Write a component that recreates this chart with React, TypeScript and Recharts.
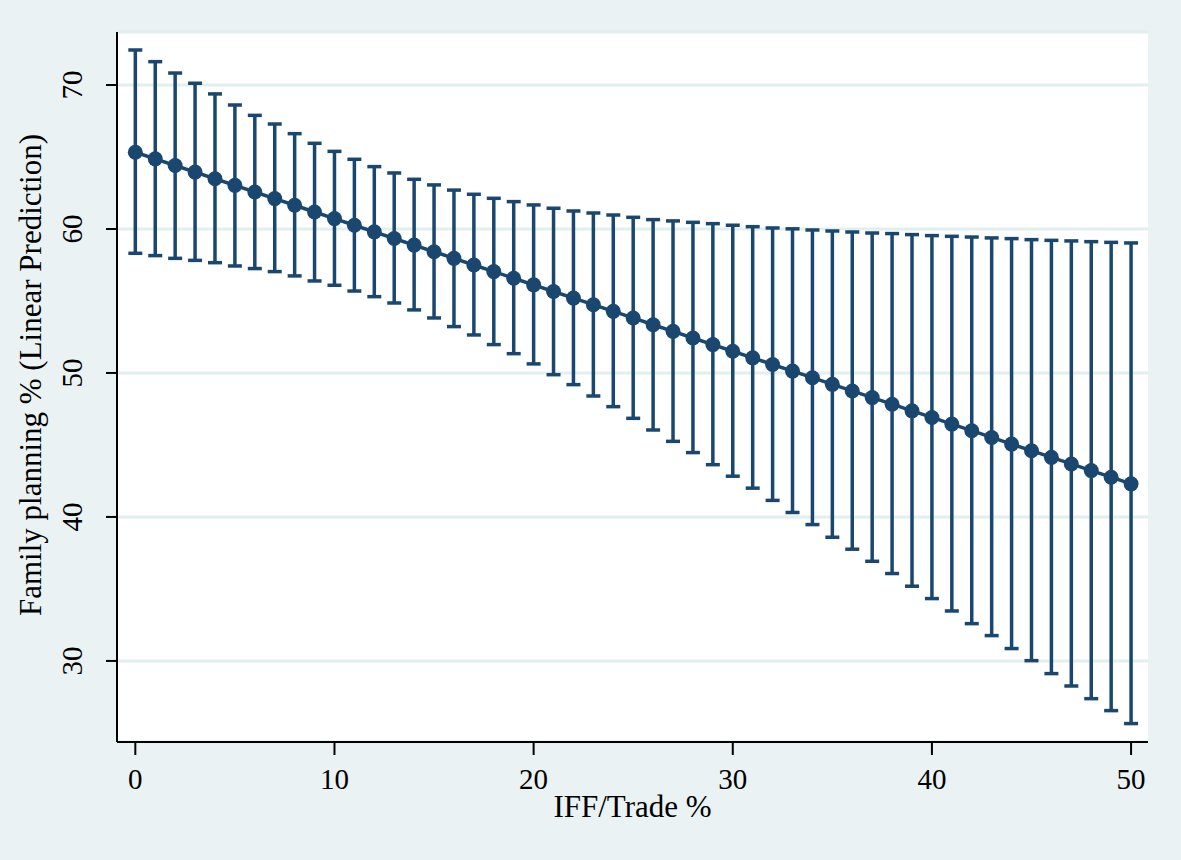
import React from 'react';
import { LineChart, Line, XAxis, YAxis, CartesianGrid, ErrorBar } from 'recharts';

// IFF/Trade % values (x)
const iffTrade = [
  0, 1, 2, 3, 4, 5, 6, 7, 8, 9, 10, 11, 12, 13, 14, 15, 16, 17, 18, 19, 20, 21, 22, 23, 24, 25,
  26, 27, 28, 29, 30, 31, 32, 33, 34, 35, 36, 37, 38, 39, 40, 41, 42, 43, 44, 45, 46, 47, 48, 49, 50,
];

// linear prediction of family planning %
const prediction = [
  65.33, 64.87, 64.41, 63.95, 63.49, 63.03, 62.57, 62.11, 61.65, 61.18, 60.72, 60.26, 59.8, 59.34,
  58.88, 58.42, 57.96, 57.5, 57.04, 56.58, 56.12, 55.66, 55.2, 54.74, 54.28, 53.82, 53.35, 52.89,
  52.43, 51.97, 51.51, 51.05, 50.59, 50.13, 49.67, 49.21, 48.75, 48.29, 47.83, 47.37, 46.91, 46.45,
  45.99, 45.52, 45.06, 44.6, 44.14, 43.68, 43.22, 42.76, 42.3,
];

// upper confidence limit
const upperCI = [
  72.43, 71.62, 70.83, 70.12, 69.38, 68.61, 67.89, 67.29, 66.62, 65.95, 65.39, 64.84, 64.33, 63.89,
  63.45, 63.06, 62.7, 62.41, 62.13, 61.9, 61.67, 61.44, 61.25, 61.11, 60.97, 60.81, 60.65, 60.56,
  60.46, 60.37, 60.26, 60.16, 60.07, 60.01, 59.93, 59.86, 59.79, 59.72, 59.68, 59.61, 59.54, 59.49,
  59.44, 59.38, 59.33, 59.26, 59.21, 59.17, 59.12, 59.07, 59.03,
];

// lower confidence limit
const lowerCI = [
  58.31, 58.15, 57.96, 57.82, 57.66, 57.43, 57.25, 57.04, 56.74, 56.39, 56.09, 55.69, 55.3, 54.86,
  54.38, 53.82, 53.22, 52.64, 51.97, 51.34, 50.63, 49.88, 49.19, 48.4, 47.66, 46.85, 46.04, 45.25,
  44.47, 43.63, 42.83, 42.0, 41.15, 40.31, 39.47, 38.59, 37.76, 36.92, 36.07, 35.19, 34.33, 33.47,
  32.59, 31.76, 30.86, 30.02, 29.12, 28.26, 27.38, 26.55, 25.65,
];

const xTicks = [0, 10, 20, 30, 40, 50];
const yTicks = [30, 40, 50, 60, 70];

const NAVY = '#1a476f';
const FONT = '"Liberation Serif", "Times New Roman", serif';

const data = iffTrade.map((x, i) => ({
  x,
  y: prediction[i],
  err: [prediction[i] - lowerCI[i], upperCI[i] - prediction[i]],
}));

const YTick = ({ x, y, payload }: any) => {
  const bx = x - 24;
  return (
    <text
      x={bx}
      y={y}
      transform={`rotate(-90 ${bx} ${y})`}
      textAnchor="middle"
      fontFamily={FONT}
      fontSize={29}
      fill="#000"
    >
      {payload.value}
    </text>
  );
};

export default function App() {
  return (
    <div
      style={{
        position: 'absolute',
        left: 0,
        top: 0,
        width: 1181,
        height: 860,
        background: '#eaf2f3',
      }}
    >
      <LineChart
        width={1181}
        height={860}
        data={data}
        margin={{ top: 32, right: 33, bottom: 0, left: 0 }}
      >
        <CartesianGrid
          vertical={false}
          fill="#ffffff"
          stroke="#e3eef0"
          strokeWidth={3}
        />
        <XAxis
          dataKey="x"
          type="number"
          domain={[-0.92, 50.85]}
          ticks={xTicks}
          allowDataOverflow
          height={118}
          stroke="#000"
          strokeWidth={2}
          tickSize={13}
          tickMargin={13}
          tick={{ fontSize: 29, fontFamily: FONT, fill: '#000' }}
          label={{
            content: ({ viewBox }: any) => (
              <text
                x={viewBox.x + viewBox.width / 2}
                y={viewBox.y + 75}
                textAnchor="middle"
                fontFamily={FONT}
                fontSize={31}
                fill="#000"
              >
                IFF/Trade %
              </text>
            ),
          }}
        />
        <YAxis
          type="number"
          domain={[24.37, 73.68]}
          ticks={yTicks}
          allowDataOverflow
          width={117}
          stroke="#000"
          strokeWidth={2}
          tickSize={11}
          tickMargin={0}
          tick={<YTick />}
          label={{
            content: ({ viewBox }: any) => {
              const cx = 41;
              const cy = viewBox.y + viewBox.height / 2 - 12;
              return (
                <text
                  x={cx}
                  y={cy}
                  transform={`rotate(-90 ${cx} ${cy})`}
                  textAnchor="middle"
                  fontFamily={FONT}
                  fontSize={31}
                  fill="#000"
                >
                  Family planning % (Linear Prediction)
                </text>
              );
            },
          }}
        />
        <Line
          dataKey="y"
          type="linear"
          stroke={NAVY}
          strokeWidth={3.5}
          dot={{ r: 7.5, fill: NAVY, stroke: 'none' }}
          isAnimationActive={false}
        >
          <ErrorBar
            dataKey="err"
            direction="y"
            width={7}
            stroke={NAVY}
            strokeWidth={3.5}
            isAnimationActive={false}
          />
        </Line>
      </LineChart>
    </div>
  );
}
